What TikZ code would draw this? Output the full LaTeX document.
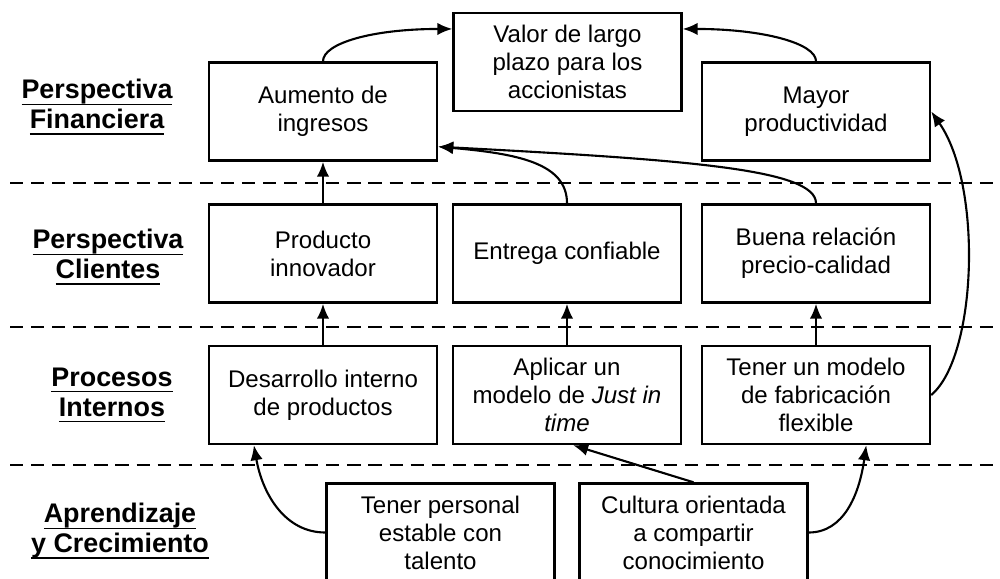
\documentclass[tikz,border=0pt]{standalone}
\usepackage{fontspec}
\setmainfont{Liberation Sans}
\usetikzlibrary{arrows.meta}
\newcommand{\subrayado}[1]{\setbox0\hbox{#1}\rlap{\rule[-3.6pt]{\wd0}{0.8pt}}\box0}

\begin{document}
\begin{tikzpicture}[x=0.02cm,y=0.02cm,
  boite/.style={draw,line width=1.4pt,inner sep=0pt,align=center,
    minimum width=4.56cm,minimum height=1.96cm,
    font=\fontsize{13.7}{16}\selectfont},
  titre/.style={align=center,font=\fontsize{15.3}{17}\selectfont\bfseries},
  fleche/.style={line width=1.2pt,-{Latex[length=0.3cm,width=0.25cm]}},
  separ/.style={line width=1.1pt,dash pattern=on 7.5pt off 4.5pt}]
  \useasboundingbox (0,0) rectangle (1000,-578);

  % separaciones
  \foreach \y in {183,327,465} {
    \draw[separ] (10,-\y) -- (1000,-\y) ;
  }

  % perspectivas
  \node[titre] (Lfin) at (97,-107) {\subrayado{Perspectiva}\\ \subrayado{Financiera}} ;
  \node[titre] (Lcli) at (108,-257) {\subrayado{Perspectiva}\\ \subrayado{Clientes}} ;
  \node[titre] (Lpro) at (112,-395) {\subrayado{Procesos}\\ \subrayado{Internos}} ;
  \node[titre] (Lapr) at (120,-531) {\subrayado{Aprendizaje}\\ \subrayado{y Crecimiento}} ;

  \node[boite] (valor) at (567.5,-62) {Valor de largo\\ plazo para los\\ accionistas} ;
  \node[boite] (ingresos) at (323,-111.5) {Aumento de\\ ingresos} ;
  \node[boite] (product) at (816,-111.5) {Mayor\\ productividad} ;

  \node[boite] (innov) at (323,-253.5) {Producto\\ innovador} ;
  \node[boite] (entrega) at (567,-253.5) {Entrega confiable} ;
  \node[boite] (precio) at (816,-253.5) {Buena relación\\ precio-calidad} ;

  \node[boite] (desarr) at (323,-395) {Desarrollo interno\\ de productos} ;
  \node[boite] (jit) at (567,-395) {Aplicar un\\ modelo de \textit{Just in}\\ \textit{time}} ;
  \node[boite] (flex) at (816,-395) {Tener un modelo\\ de fabricación\\ flexible} ;

  \node[boite] (personal) at (440.5,-532.5) {Tener personal\\ estable con\\ talento} ;
  \node[boite] (cultura) at (693.5,-532.5) {Cultura orientada\\ a compartir\\ conocimiento} ;

  % relaciones
  \draw[fleche] (ingresos.north) .. controls +(90:18) and +(180:80) .. (valor.164) ;
  \draw[fleche] (product.north) .. controls +(90:18) and +(0:80) .. (valor.16) ;
  \draw[fleche] (innov.north) -- (ingresos.south) ;
  \draw[fleche] (entrega.north) .. controls +(90:40) and +(-5:80) .. (ingresos.-17) ;
  \draw[fleche] (precio.north) .. controls +(90:34) and +(-3:250) .. (ingresos.-17) ;
  \draw[fleche] (desarr.north) -- (innov.south) ;
  \draw[fleche] (jit.north) -- (entrega.south) ;
  \draw[fleche] (flex.north) -- (precio.south) ;
  \draw[fleche] (flex.east) .. controls +(40:60) and +(-55:90) .. (product.east) ;
  \draw[fleche] (personal.west) .. controls +(180:40) and +(-80:50) .. (desarr.216) ;
  \draw[fleche] (cultura.north) -- (jit.-83) ;
  \draw[fleche] (cultura.east) .. controls +(0:35) and +(-98:50) .. (flex.-45) ;
\end{tikzpicture}
\end{document}
